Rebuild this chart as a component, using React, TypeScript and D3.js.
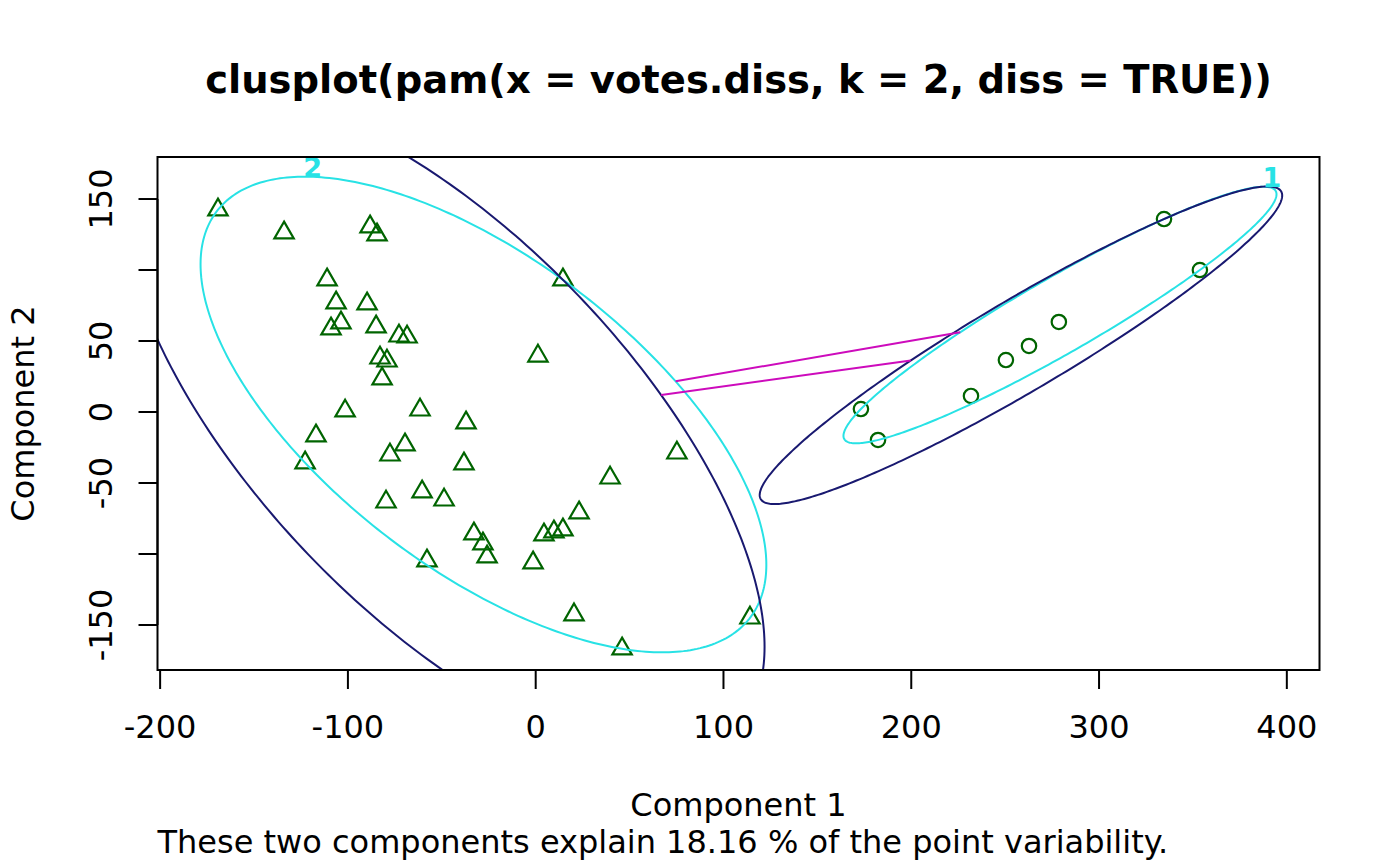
import React from "react";
import * as d3 from "d3";

// cluster 1 (circles) and cluster 2 (triangles), coordinates on the two components
const cluster1X = [173.2, 182.3, 231.8, 250.4, 262.7, 278.6, 334.6, 353.7];
const cluster1Y = [2.1, -19.7, 11.3, 36.6, 46.5, 63.4, 135.9, 100.0];

const cluster2X = [
  -169.2, -134.0, -88.2, -84.5, -111.1, -106.3, -89.8, -109.0, -103.7, -85.0,
  -72.8, -68.5, -82.9, -79.2, -81.8, 14.5, 1.2, -101.5, -117.0, -122.8,
  -77.6, -69.6, -61.6, -37.1, -38.2, -79.7, -60.5, -48.8, -32.9, -28.1,
  -25.9, -57.9, -1.4, 4.4, 9.7, 14.5, 23.1, 39.6, 75.2, 20.4,
  46.0, 114.1,
];
const cluster2Y = [
  142.4, 126.2, 130.4, 124.8, 93.1, 76.9, 76.2, 58.6, 62.8, 60.0,
  53.6, 52.9, 38.1, 36.0, 23.4, 93.1, 39.5, 0.8, -16.8, -35.8,
  -30.2, -23.1, 1.5, -7.6, -36.5, -63.3, -56.2, -61.9, -85.8, -92.8,
  -102.0, -104.8, -106.2, -86.5, -84.4, -83.0, -71.0, -46.4, -28.8, -142.8,
  -166.8, -145.0,
];

const clusterLabels = ["1", "2"];
const xTicks = [-200, -100, 0, 100, 200, 300, 400];
const yTicks = [-150, -100, -50, 0, 50, 100, 150];
const yTickLabels = ["-150", "", "-50", "0", "50", "", "150"];

const title = "clusplot(pam(x = votes.diss, k = 2, diss = TRUE))";
const subTitle = "These two components explain 18.16 % of the point variability.";

type Pt = [number, number];
type Mat2 = [[number, number], [number, number]];
type Ell = { c: Pt; S: Mat2 };

const inv2 = (S: Mat2): Mat2 => {
  const det = S[0][0] * S[1][1] - S[0][1] * S[1][0];
  return [
    [S[1][1] / det, -S[0][1] / det],
    [-S[1][0] / det, S[0][0] / det],
  ];
};

const mahal = (p: Pt, c: Pt, S: Mat2) => {
  const A = inv2(S);
  const dx = p[0] - c[0];
  const dy = p[1] - c[1];
  return A[0][0] * dx * dx + 2 * A[0][1] * dx * dy + A[1][1] * dy * dy;
};

// scale S so that the farthest point lies on the boundary
const fitScale = (pts: Pt[], c: Pt, S: Mat2): Ell => {
  const m = d3.max(pts, (p) => mahal(p, c, S)) as number;
  return { c, S: [[S[0][0] * m, S[0][1] * m], [S[1][0] * m, S[1][1] * m]] };
};

// span = FALSE: mean and covariance
const covEllipse = (pts: Pt[]): Ell => {
  const c: Pt = [d3.mean(pts, (p) => p[0]) as number, d3.mean(pts, (p) => p[1]) as number];
  let sxx = 0, sxy = 0, syy = 0;
  pts.forEach((p) => {
    sxx += (p[0] - c[0]) ** 2;
    sxy += (p[0] - c[0]) * (p[1] - c[1]);
    syy += (p[1] - c[1]) ** 2;
  });
  const k = pts.length - 1;
  return fitScale(pts, c, [[sxx / k, sxy / k], [sxy / k, syy / k]]);
};

const inv3 = (m: number[][]) => {
  const [a, b, c] = m[0];
  const [d, e, f] = m[1];
  const [g, h, i] = m[2];
  const A = e * i - f * h, B = -(d * i - f * g), C = d * h - e * g;
  const det = a * A + b * B + c * C;
  return [
    [A / det, -(b * i - c * h) / det, (b * f - c * e) / det],
    [B / det, (a * i - c * g) / det, -(a * f - c * d) / det],
    [C / det, -(a * h - b * g) / det, (a * e - b * d) / det],
  ];
};

// span = TRUE: smallest area ellipse containing the points (Khachiyan)
const hullEllipse = (pts: Pt[]): Ell => {
  const n = pts.length;
  let u = pts.map(() => 1 / n);
  for (let it = 0; it < 20000; it++) {
    const X = [[0, 0, 0], [0, 0, 0], [0, 0, 0]];
    pts.forEach((p, k) => {
      const q = [p[0], p[1], 1];
      for (let a = 0; a < 3; a++) for (let b = 0; b < 3; b++) X[a][b] += u[k] * q[a] * q[b];
    });
    const Xi = inv3(X);
    let maxM = -1, j = 0;
    pts.forEach((p, k) => {
      const q = [p[0], p[1], 1];
      let m = 0;
      for (let a = 0; a < 3; a++) for (let b = 0; b < 3; b++) m += q[a] * Xi[a][b] * q[b];
      if (m > maxM) { maxM = m; j = k; }
    });
    const step = (maxM - 3) / (3 * (maxM - 1));
    if (step < 1e-10) break;
    u = u.map((v) => v * (1 - step));
    u[j] += step;
  }
  const c: Pt = [d3.sum(pts, (p, k) => u[k] * p[0]), d3.sum(pts, (p, k) => u[k] * p[1])];
  let sxx = 0, sxy = 0, syy = 0;
  pts.forEach((p, k) => {
    sxx += u[k] * (p[0] - c[0]) ** 2;
    sxy += u[k] * (p[0] - c[0]) * (p[1] - c[1]);
    syy += u[k] * (p[1] - c[1]) ** 2;
  });
  return fitScale(pts, c, [[sxx, sxy], [sxy, syy]]);
};

const ellipsePoints = (e: Ell): Pt[] => {
  const l11 = Math.sqrt(e.S[0][0]);
  const l21 = e.S[0][1] / l11;
  const l22 = Math.sqrt(e.S[1][1] - l21 * l21);
  return d3.range(0, 361).map((deg) => {
    const t = (deg * Math.PI) / 180;
    return [e.c[0] + l11 * Math.cos(t), e.c[1] + l21 * Math.cos(t) + l22 * Math.sin(t)] as Pt;
  });
};

// segment between two ellipse boundaries along the line of centres
const betweenEllipses = (a: Ell, b: Ell): [Pt, Pt] => {
  const d: Pt = [b.c[0] - a.c[0], b.c[1] - a.c[1]];
  const ta = 1 / Math.sqrt(mahal([a.c[0] + d[0], a.c[1] + d[1]], a.c, a.S));
  const tb = 1 / Math.sqrt(mahal([b.c[0] - d[0], b.c[1] - d[1]], b.c, b.S));
  return [
    [a.c[0] + ta * d[0], a.c[1] + ta * d[1]],
    [b.c[0] - tb * d[0], b.c[1] - tb * d[1]],
  ];
};

const topOf = (e: Ell): Pt => {
  const sy = Math.sqrt(e.S[1][1]);
  return [e.c[0] + e.S[0][1] / sy, e.c[1] + sy];
};

const App: React.FC = () => {
  const W = 1400;
  const H = 866;
  const left = 157.5, right = 1319.5, top = 157, bottom = 670;

  const x = d3.scaleLinear().domain([-201.4, 417.4]).range([left, right]);
  const y = d3.scaleLinear().domain([-181.7, 179.6]).range([bottom, top]);

  const pts1: Pt[] = cluster1X.map((v, i) => [v, cluster1Y[i]]);
  const pts2: Pt[] = cluster2X.map((v, i) => [v, cluster2Y[i]]);

  const span = [hullEllipse(pts1), hullEllipse(pts2)];
  const cov = [covEllipse(pts1), covEllipse(pts2)];

  const line = d3
    .line<Pt>()
    .x((d) => x(d[0]))
    .y((d) => y(d[1]));

  const segs = [betweenEllipses(span[1], span[0]), betweenEllipses(cov[1], cov[0])];

  const font = "'DejaVu Sans', sans-serif";
  const fs = 32;
  const s = 7.2; // symbol size
  const tri = `M0,${-1.555 * s}L${1.347 * s},${0.778 * s}L${-1.347 * s},${0.778 * s}Z`;

  return (
    <svg
      width={W}
      height={H}
      style={{ position: "absolute", left: 0, top: 0, background: "#fff" }}
      fontFamily={font}
    >
      <defs>
        <clipPath id="plotClip">
          <rect x={left} y={top} width={right - left} height={bottom - top} />
        </clipPath>
      </defs>

      <text x={(left + right) / 2} y={93} textAnchor="middle" fontSize={38.5} fontWeight="bold">
        {title}
      </text>

      {/* points */}
      <g fill="none" stroke="#006400" strokeWidth={2.2}>
        {pts1.map((p, i) => (
          <circle key={"c" + i} cx={x(p[0])} cy={y(p[1])} r={7.2} />
        ))}
        {pts2.map((p, i) => (
          <path key={"t" + i} d={tri} transform={`translate(${x(p[0])},${y(p[1])})`} />
        ))}
      </g>

      <g clipPath="url(#plotClip)" fill="none" strokeWidth={2}>
        {span.map((e, i) => (
          <path key={"s" + i} d={line(ellipsePoints(e)) as string} stroke="#28E2E5" />
        ))}
        {cov.map((e, i) => (
          <path key={"v" + i} d={line(ellipsePoints(e)) as string} stroke="#191970" />
        ))}
        {segs.map((sg, i) => (
          <path key={"l" + i} d={line(sg) as string} stroke="#CD0BBC" />
        ))}
      </g>

      {span.map((e, i) => {
        const tp = topOf(e);
        return (
          <text
            key={"lab" + i}
            x={x(tp[0]) + 8}
            y={y(tp[1])}
            textAnchor="middle"
            fontSize={27}
            fontWeight="bold"
            fill="#28E2E5"
          >
            {clusterLabels[i]}
          </text>
        );
      })}

      <rect x={left} y={top} width={right - left} height={bottom - top} fill="none" stroke="#000" strokeWidth={2} />

      {/* x axis */}
      <g stroke="#000" strokeWidth={2}>
        <line x1={x(xTicks[0])} x2={x(xTicks[xTicks.length - 1])} y1={bottom} y2={bottom} />
        {xTicks.map((t) => (
          <line key={t} x1={x(t)} x2={x(t)} y1={bottom} y2={bottom + 19} />
        ))}
      </g>
      {xTicks.map((t) => (
        <text key={t} x={x(t)} y={738} textAnchor="middle" fontSize={fs}>
          {t}
        </text>
      ))}

      {/* y axis */}
      <g stroke="#000" strokeWidth={2}>
        <line x1={left} x2={left} y1={y(yTicks[0])} y2={y(yTicks[yTicks.length - 1])} />
        {yTicks.map((t) => (
          <line key={t} x1={left - 19} x2={left} y1={y(t)} y2={y(t)} />
        ))}
      </g>
      {yTicks.map((t, i) => (
        <text
          key={t}
          transform={`translate(112,${y(t)}) rotate(-90)`}
          textAnchor="middle"
          fontSize={fs}
        >
          {yTickLabels[i]}
        </text>
      ))}

      <text x={(left + right) / 2} y={816} textAnchor="middle" fontSize={fs}>
        Component 1
      </text>
      <text transform={`translate(34,${(top + bottom) / 2}) rotate(-90)`} textAnchor="middle" fontSize={fs}>
        Component 2
      </text>
      <text x={left} y={853} textAnchor="start" fontSize={fs}>
        {subTitle}
      </text>
    </svg>
  );
};

export default App;
